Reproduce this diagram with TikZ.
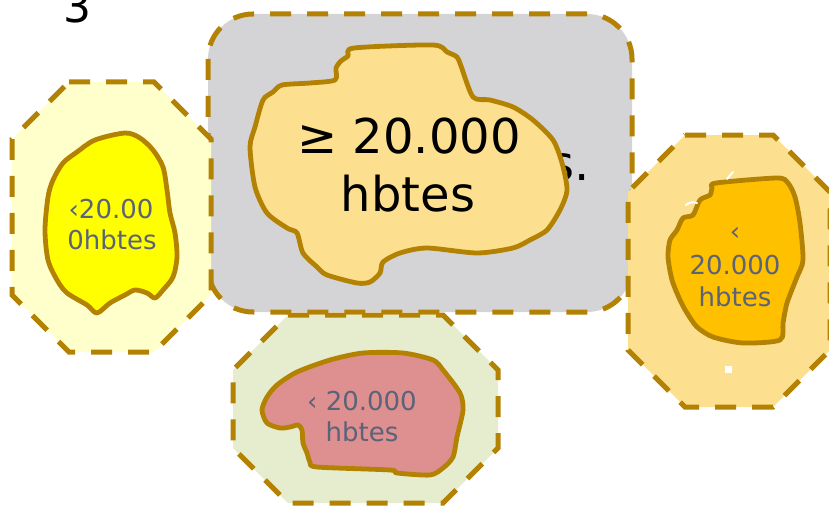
\documentclass[tikz,border=0pt]{standalone}
\usepackage{fontspec}
\setmainfont{DejaVu Sans}
\definecolor{brd}{HTML}{B38203}
\definecolor{boxgray}{HTML}{D4D4D7}
\definecolor{tanc}{HTML}{FDE08F}
\definecolor{lyellow}{HTML}{FFFFCC}
\definecolor{yel}{HTML}{FFFF00}
\definecolor{orng}{HTML}{FFC000}
\definecolor{lgreen}{HTML}{E6EDCE}
\definecolor{pinkc}{HTML}{DE8F8F}
\definecolor{txtgray}{HTML}{5A6378}
\begin{document}
\begin{tikzpicture}[x=1pt,y=-1pt,
  dashbox/.style={draw=brd, line width=5pt, dash pattern=on 21pt off 16pt},
  blob/.style={draw=brd, line width=4.8pt, line join=round},
  smalltxt/.style={inner sep=0pt, anchor=base, text=txtgray, font=\fontsize{26}{31}\selectfont},
  bigtxt/.style={inner sep=0pt, anchor=base, text=black, font=\fontsize{48}{58}\selectfont},
  whitemark/.style={draw=white, line width=2pt, line cap=round}]
\useasboundingbox (0,0) rectangle (829,508);
% number top-left
\node[inner sep=0pt, anchor=base, font=\fontsize{44}{50}\selectfont] (num) at (77,23) {3};
% gray rounded box
\draw[dashbox, fill=boxgray, rounded corners=45pt] (208,14) rectangle (632,312);
\node[bigtxt, anchor=base east] (hidden) at (590,180) {s.};
% left octagon
\draw[dashbox, fill=lyellow] (69,82) -- (154,82) -- (211,139) -- (211,295) -- (154,352) -- (69,352) -- (12,295) -- (12,139) -- cycle;
% right octagon
\draw[dashbox, fill=tanc] (685,135) -- (773,135) -- (830,192) -- (830,350) -- (773,407) -- (685,407) -- (628,350) -- (628,192) -- cycle;
% bottom octagon
\draw[dashbox, fill=lgreen] (288,315) -- (443,315) -- (498,370) -- (498,448) -- (443,503) -- (288,503) -- (233,448) -- (233,370) -- cycle;
% central tan blob
\draw[blob, fill=tanc] plot[smooth cycle, tension=0.45] coordinates {
 (335,80) (336,68) (341,61) (348,56) (354,48) (433,45) (447,52) (457,57) (461,66)
 (473,97) (490,100) (513,107) (533,120) (553,140) (562,163) (567,190) (560,210)
 (547,230) (530,240) (513,248) (477,253) (427,248) (400,253) (383,262) (380,273)
 (370,282) (357,283) (327,275) (317,267) (303,253) (297,233) (287,228) (267,213)
 (255,187) (250,147) (255,127) (263,100) (273,92) (282,85) (310,83)};
\node[bigtxt] (c1) at (409,153) {≥ 20.000};
\node[bigtxt] (c2) at (408,211) {hbtes};
% left yellow blob
\draw[blob, fill=yel] plot[smooth cycle, tension=0.5] coordinates {
 (95,140) (125,133) (140,138) (153,150) (163,167) (167,190) (170,213) (175,233)
 (177,257) (173,277) (163,290) (155,298) (147,293) (135,290) (125,295) (110,303)
 (97,313) (87,305) (67,293) (57,280) (48,260) (45,230) (48,197) (53,180) (63,163) (77,152)};
\node[smalltxt] (l1) at (111,218) {‹20.00};
\node[smalltxt] (l2) at (112,249) {0hbtes};
% right orange blob
\draw[blob, fill=orng] plot[smooth cycle, tension=0.45] coordinates {
 (716,183) (777,178) (788,183) (795,197) (800,223) (803,260) (797,277) (787,303)
 (783,323) (780,340) (743,343) (713,337) (697,327) (687,313) (680,300) (672,280)
 (668,257) (670,240) (677,230) (683,218) (693,215) (700,200) (710,195) (712,188)};
\node[smalltxt] (r1) at (735,240) {‹};
\node[smalltxt] (r2) at (735,274) {20.000};
\node[smalltxt] (r3) at (735,306) {hbtes};
\draw[whitemark] (727,179) -- (733,172);
\draw[whitemark] (686,205) .. controls (689,202) and (694,202) .. (697,203);
\fill[white] (725,366) rectangle (732,373);
% bottom pink blob
\draw[blob, fill=pinkc] plot[smooth cycle, tension=0.45] coordinates {
 (277,385) (297,372) (330,360) (363,353) (403,353) (433,360) (443,370) (460,393)
 (463,410) (457,437) (453,457) (443,468) (430,475) (397,473) (390,470) (317,467)
 (310,462) (307,453) (303,443) (302,430) (298,425) (290,427) (280,428) (267,423)
 (262,410) (267,397)};
\node[smalltxt] (b1) at (362,410) {‹ 20.000};
\node[smalltxt] (b2) at (362,441) {hbtes};
\end{tikzpicture}
\end{document}
